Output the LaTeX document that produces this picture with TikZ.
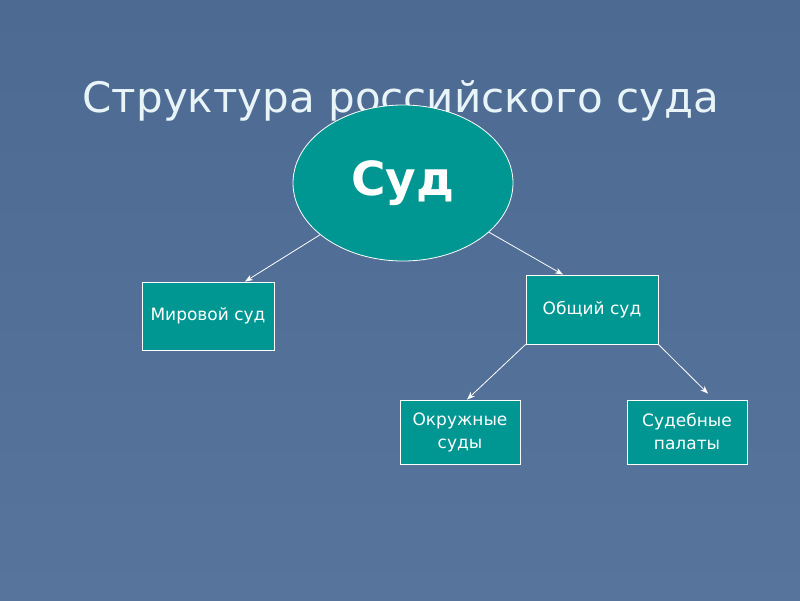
\documentclass[tikz,border=0pt]{standalone}
\usepackage{fontspec}
\setmainfont{DejaVu Sans}
\usetikzlibrary{arrows.meta,shapes.geometric}
\definecolor{slide}{RGB}{86,116,156}
\definecolor{slidetop}{RGB}{76,106,146}
\definecolor{teal}{RGB}{0,150,146}
\definecolor{titlecol}{RGB}{232,244,248}
\tikzset{
    courtbox/.style={draw=white, line width=0.8pt, fill=teal, text=white,
        align=center, font=\fontsize{17}{23}\selectfont, inner sep=2pt},
    arr/.style={-{Stealth[length=8pt,width=6pt]}, draw=white, line width=0.8pt}
}

\begin{document}
\begin{tikzpicture}[x=1pt,y=-1pt]
    % Background
    \shade[top color=slidetop, bottom color=slide] (0,0) rectangle (800,600);
    \useasboundingbox (0,0) rectangle (800,600);

    % Title
    \node[anchor=base, text=titlecol, font=\fontsize{42}{50}\selectfont] (title) at (401,112) {Структура российского суда};

    % Main court
    \node[ellipse, draw=white, line width=0.8pt, fill=teal, text=white,
        minimum width=220pt, minimum height=156pt,
        font=\bfseries\fontsize{47}{55}\selectfont] (sud) at (403,183) {Суд};

    % Lower courts
    \node[courtbox, minimum width=132pt, minimum height=68pt] (mir) at (208,316) {Мировой суд};
    \node[courtbox, minimum width=132pt, minimum height=69pt] (obsh) at (592,309.5) {Общий суд};
    \node[courtbox, minimum width=120pt, minimum height=64pt] (okr) at (460,432) {Окружные\\суды};
    \node[courtbox, minimum width=120pt, minimum height=64pt] (pal) at (687,432) {Судебные\\палаты};

    % Arrows
    \draw[arr] (sud) -- ([xshift=37pt]mir.north);
    \draw[arr] (sud) -- ([xshift=-29pt]obsh.north);
    \draw[arr] (obsh.south west) -- ([xshift=7pt]okr.north);
    \draw[arr] (obsh.south east) -- ([xshift=21pt,yshift=6pt]pal.north);
\end{tikzpicture}
\end{document}
